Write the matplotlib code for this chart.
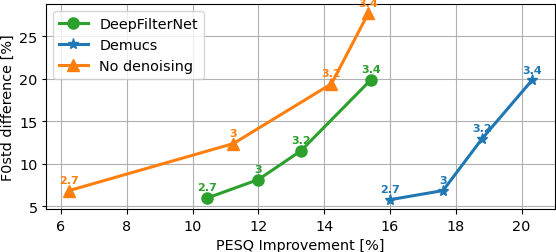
import matplotlib
matplotlib.use("Agg")
import matplotlib.pyplot as plt

plt.rcParams["font.size"] = 10.4

labels = ["2.7", "3", "3.2", "3.4"]
dfn_x = [10.45, 12.0, 13.29, 15.42]
dfn_y = [5.98, 8.15, 11.52, 19.88]
dem_x = [16.0, 17.61, 18.8, 20.31]
dem_y = [5.78, 6.85, 12.97, 19.81]
nod_x = [6.25, 11.24, 14.22, 15.34]
nod_y = [6.85, 12.38, 19.41, 27.7]

fig, ax = plt.subplots(figsize=(5.56, 2.53), dpi=100)
series = [
    ("DeepFilterNet", dfn_x, dfn_y, "o", "tab:green"),
    ("Demucs", dem_x, dem_y, "*", "tab:blue"),
    ("No denoising", nod_x, nod_y, "^", "tab:orange"),
]
for name, xs, ys, m, c in series:
    ax.plot(xs, ys, marker=m, color=c, label=name, linewidth=2.2, markersize=8)
    for lab, x, y in zip(labels, xs, ys):
        ax.annotate(lab, (x, y), xytext=(0, 4), textcoords="offset points",
                    ha="center", va="bottom", color=c, fontsize=8, fontweight="bold",
                    annotation_clip=False)

ax.grid(True)
ax.tick_params(axis="y", length=3, pad=3)
ax.set_xlabel("PESQ Improvement [%]")
ax.set_ylabel("F0std difference [%]", labelpad=3)
ax.legend(loc="upper left")
fig.subplots_adjust(left=46/556, right=555/556, top=1-5/253, bottom=1-210/253)
fig.savefig("out.png")
